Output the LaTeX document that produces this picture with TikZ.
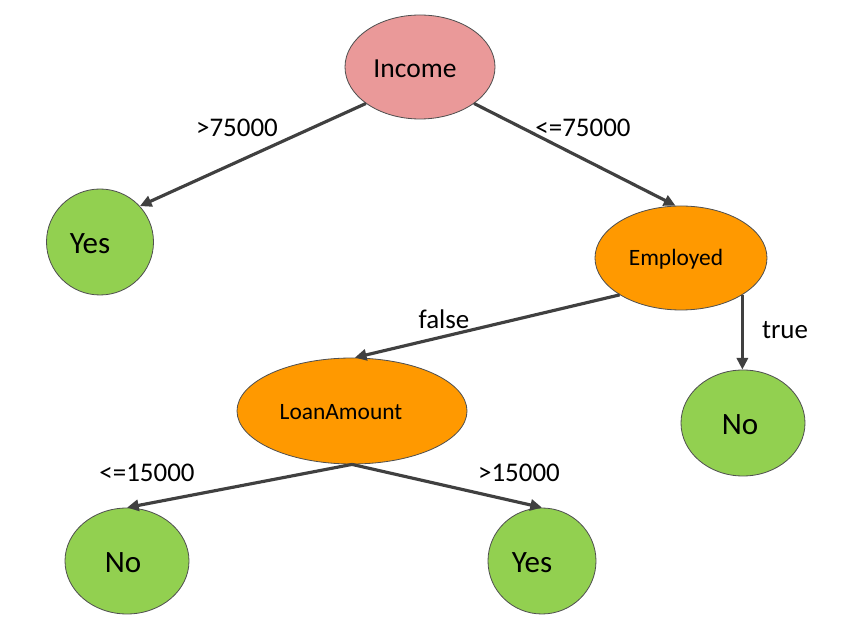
\documentclass[tikz,border=0pt]{standalone}
\usepackage{fontspec}
\setmainfont{Carlito}
\usetikzlibrary{shapes.geometric,arrows.meta}
\definecolor{pinkfill}{HTML}{EA9999}
\definecolor{orangefill}{HTML}{FF9900}
\definecolor{greenfill}{HTML}{92D050}
\definecolor{edgegray}{HTML}{404040}
\definecolor{bordergray}{HTML}{505050}
\tikzset{
  base/.style={ellipse, draw=bordergray, line width=0.7pt, inner sep=0pt},
  rootnode/.style={base, fill=pinkfill},
  testnode/.style={base, fill=orangefill},
  leafnode/.style={base, fill=greenfill},
  bigtxt/.style={font=\fontsize{26.5}{30}\selectfont, yshift=-2*0.03cm},
  midtxt/.style={font=\fontsize{23.5}{28}\selectfont},
  smalltxt/.style={font=\fontsize{20}{24}\selectfont, yshift=-1.5*0.03cm},
  edgetxt/.style={font=\fontsize{23}{27}\selectfont, inner sep=0pt},
  conn/.style={draw=edgegray, line width=2.7pt, -{Triangle[length=10pt,width=9.5pt]}},
}
\begin{document}
\begin{tikzpicture}[x=0.03cm,y=-0.03cm]
\useasboundingbox (0,0) rectangle (854,629);
\node[rootnode, minimum width=150*0.03cm, minimum height=104*0.03cm,
  label={[midtxt, xshift=-5*0.03cm, yshift=-2*0.03cm]center:Income}] (inc) at (420,67) {};
\node[leafnode, minimum width=107*0.03cm, minimum height=106*0.03cm,
  label={[bigtxt, xshift=-10*0.03cm]center:Yes}] (yes1) at (100,242) {};
\node[testnode, minimum width=172*0.03cm, minimum height=104*0.03cm,
  label={[smalltxt, xshift=-5*0.03cm]center:Employed}] (emp) at (681,258) {};
\node[leafnode, minimum width=124*0.03cm, minimum height=106*0.03cm,
  label={[bigtxt, xshift=-3*0.03cm]center:No}] (no1) at (743,423) {};
\node[testnode, minimum width=230*0.03cm, minimum height=106*0.03cm,
  label={[smalltxt, xshift=-11*0.03cm]center:LoanAmount}] (loan) at (352,411) {};
\node[leafnode, minimum width=124*0.03cm, minimum height=106*0.03cm,
  label={[bigtxt, xshift=-4*0.03cm]center:No}] (no2) at (127,561) {};
\node[leafnode, minimum width=108*0.03cm, minimum height=106*0.03cm,
  label={[bigtxt, xshift=-10*0.03cm]center:Yes}] (yes2) at (542,561) {};

\draw[conn] (inc.214) -- (yes1.42);
\draw[conn] (inc.326) -- (emp.96);
\draw[conn] (emp.211) -- (loan.87);
\draw[conn] (emp.329) -- (emp.329 |- no1.north);
\draw[conn] (loan.south) -- (no2.north);
\draw[conn] (loan.south) -- (yes2.north);

\node[edgetxt] (l1) at (237,128) {>75000};
\node[edgetxt] (l2) at (583,128) {<=75000};
\node[edgetxt] (l3) at (444,319) {false};
\node[edgetxt] (l4) at (785,330) {true};
\node[edgetxt] (l5) at (147,473) {<=15000};
\node[edgetxt] (l6) at (519,473) {>15000};
\end{tikzpicture}
\end{document}
